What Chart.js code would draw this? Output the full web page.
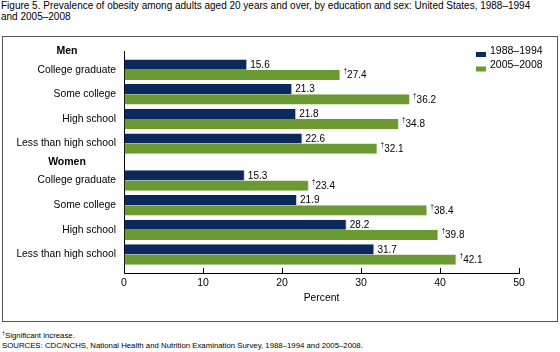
<!DOCTYPE html>
<html><head><meta charset="utf-8">
<script src="https://cdn.jsdelivr.net/npm/chart.js@4/dist/chart.umd.min.js"></script>
<style>
html,body{margin:0;padding:0;background:#fff;}
body{width:560px;height:352px;position:relative;overflow:hidden;font-family:Arial,"Liberation Sans",sans-serif;color:#000;}
#title{position:absolute;left:1px;top:0px;width:545px;font-size:10px;line-height:11px;}
#frame{position:absolute;left:2px;top:36px;width:554px;height:284px;border:1px solid #555;}
#c{position:absolute;left:0;top:0;}
#fn1{position:absolute;left:2px;top:331px;font-size:7.8px;line-height:10px;}
#fn2{position:absolute;left:2px;top:341px;font-size:7.8px;line-height:10px;}
sup{font-size:5.5px;vertical-align:3px;line-height:0;}
</style></head>
<body>
<div id="title">Figure 5. Prevalence of obesity among adults aged 20 years and over, by education and sex: United States, 1988–1994 and 2005–2008</div>
<div id="frame"><canvas id="c" width="554" height="284"></canvas></div>
<div id="fn1"><sup>†</sup>Significant increase.</div>
<div id="fn2">SOURCES: CDC/NCHS, National Health and Nutrition Examination Survey, 1988–1994 and 2005–2008.</div>
<script>
const groups = ['Men', 'Women'];
const educationLevels = ['College graduate', 'Some college', 'High school', 'Less than high school'];
const seriesNames = ['1988–1994', '2005–2008'];
const men1988 = [15.6, 21.3, 21.8, 22.6];
const men2005 = [27.4, 36.2, 34.8, 32.1];
const women1988 = [15.3, 21.9, 28.2, 31.7];
const women2005 = [23.4, 38.4, 39.8, 42.1];
const significant2005 = [true, true, true, true, true, true, true, true];
const xTicks = [0, 10, 20, 30, 40, 50];

const NAVY = '#0b2a5b';
const GREEN = '#6a9a31';
const FONT = 'Arial, "Liberation Sans", sans-serif';

// row positions: each group starts after a half-row header gap
const groupStarts = [0, 4.5];
const rowPos = [];
const rowLabels = [];
groups.forEach((g, gi) => educationLevels.forEach((lvl, li) => { rowPos.push(groupStarts[gi] + li); rowLabels.push(lvl); }));
const headerPos = groupStarts.map(s => s - 0.74);

const vals1988 = men1988.concat(women1988);
const vals2005 = men2005.concat(women2005);

const labelPlugin = {
  id: 'labels',
  afterDatasetsDraw(chart) {
    const ctx = chart.ctx;
    ctx.save();
    ctx.fillStyle = '#000';
    ctx.textBaseline = 'middle';
    chart.data.datasets.forEach((ds, di) => {
      const meta = chart.getDatasetMeta(di);
      meta.data.forEach((el, i) => {
        const v = ds.data[i].x;
        let x = el.x + 3;
        const y = el.y + 0.5;
        if (di === 1 && significant2005[i]) {
          ctx.font = '6.5px ' + FONT;
          ctx.textAlign = 'left';
          ctx.fillText('†', x, y - 4);
          x += ctx.measureText('†').width;
        }
        ctx.font = '10px ' + FONT;
        ctx.textAlign = 'left';
        ctx.fillText(v.toFixed(1), x, y);
      });
    });
    // group headers
    const ys = chart.scales.y;
    ctx.font = 'bold 10.5px ' + FONT;
    ctx.textAlign = 'center';
    groups.forEach((g, gi) => ctx.fillText(g, 64, ys.getPixelForValue(headerPos[gi])));
    // legend
    ctx.font = '10.5px ' + FONT;
    ctx.textAlign = 'left';
    chart.data.datasets.forEach((ds, di) => {
      const cy = 14 + di * 14.5;
      ctx.fillStyle = ds.backgroundColor;
      ctx.fillRect(473, cy + 1, 10, 5);
      ctx.fillStyle = '#000';
      ctx.fillText(ds.label, 487, cy);
    });
    ctx.restore();
  }
};

new Chart(document.getElementById('c'), {
  type: 'bar',
  data: {
    datasets: [
      { label: seriesNames[0], data: vals1988.map((v, i) => ({ x: v, y: rowPos[i] })), backgroundColor: NAVY, borderColor: '#c9d0da', borderWidth: {right: 1, top: 0, bottom: 0, left: 0} },
      { label: seriesNames[1], data: vals2005.map((v, i) => ({ x: v, y: rowPos[i] })), backgroundColor: GREEN, borderColor: '#cfe0b8', borderWidth: {right: 1, top: 0, bottom: 0, left: 0} }
    ]
  },
  options: {
    indexAxis: 'y',
    responsive: false,
    animation: false,
    events: [],
    layout: { padding: { top: 10, right: 38, left: 0, bottom: 0 } },
    datasets: { bar: { categoryPercentage: 0.83, barPercentage: 1.0 } },
    plugins: { legend: { display: false }, tooltip: { enabled: false } },
    scales: {
      y: {
        type: 'linear',
        reverse: true,
        offset: false,
        min: -0.75,
        max: 8.25,
        afterBuildTicks: s => { s.ticks = rowPos.map(v => ({ value: v })); },
        afterFit: s => { s.width = 121; },
        ticks: {
          autoSkip: false,
          padding: 8,
          color: '#000',
          font: { family: FONT, size: 10.3 },
          callback: (v) => { const i = rowPos.indexOf(v); return i >= 0 ? rowLabels[i] : ''; }
        },
        grid: { display: false, drawTicks: false },
        border: { display: true, color: '#000', width: 1 }
      },
      x: {
        type: 'linear',
        min: 0,
        max: 50,
        afterBuildTicks: s => { s.ticks = xTicks.map(v => ({ value: v })); },
        afterFit: s => { s.height = 48; },
        ticks: { padding: 9, color: '#000', font: { family: FONT, size: 10.5 } },
        grid: { display: true, drawOnChartArea: false, drawTicks: true, tickLength: -5, color: '#000' },
        border: { display: true, color: '#000', width: 1 },
        title: { display: true, text: 'Percent', color: '#000', font: { family: FONT, size: 10.3 }, padding: { top: 0, bottom: 17 } }
      }
    }
  },
  plugins: [labelPlugin]
});
</script>
</body></html>
